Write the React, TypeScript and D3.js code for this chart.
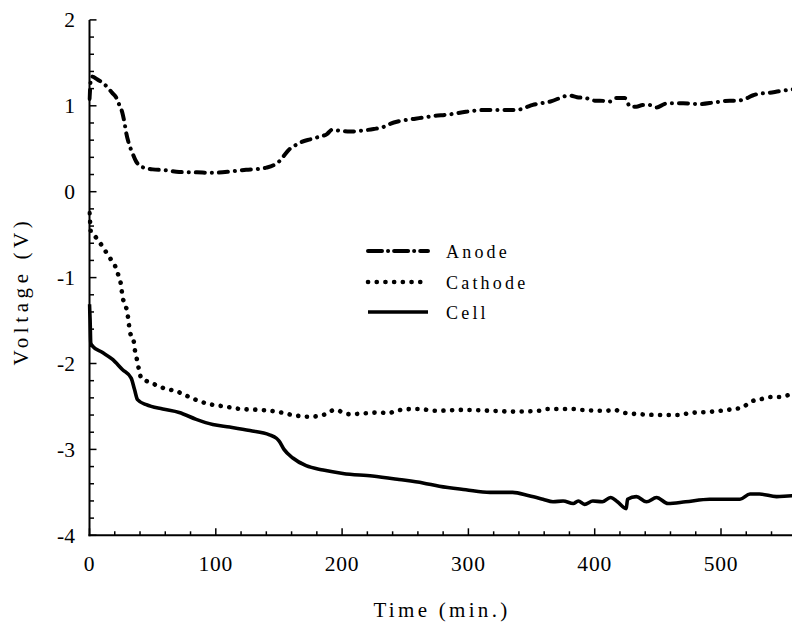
import React from "react";
import * as d3 from "d3";

const anodeT = [0,0.5,1,2,6,10,14,18,21,23,26,28,29,31,34,37,40,43,50,60,71,85,98,112,124,134,140,146,150,154,158,163,168,175,182,188,192,198,206,215,225,232,238,245,258,272,285,298,311,325,338,345,351,365,380,386,393,400,404,412,417,424,428,433,438,443,449,455,459,470,483,495,507,513,519,525,530,538,546,556,565];
const anodeV = [1.08,1.2,1.3,1.34,1.31,1.27,1.22,1.15,1.1,1.03,0.92,0.78,0.69,0.57,0.45,0.35,0.3,0.28,0.26,0.25,0.23,0.225,0.22,0.235,0.255,0.265,0.28,0.31,0.35,0.42,0.49,0.54,0.58,0.61,0.64,0.67,0.72,0.71,0.7,0.71,0.73,0.75,0.79,0.82,0.85,0.88,0.9,0.93,0.95,0.95,0.95,0.98,1.01,1.05,1.12,1.1,1.09,1.06,1.06,1.05,1.09,1.09,0.99,0.99,1.01,1.01,0.98,1.02,1.03,1.03,1.02,1.04,1.06,1.06,1.08,1.12,1.14,1.15,1.17,1.19,1.2];

const cathodeT = [0,0.5,1,5,9,13,17,21,23,25,26,28,30,31,32,35,36,37.5,39,41,46,51,57.5,70,82,94,107,120,135,148,161,174,187,194,206,230,236,243,255,261,274,296,317,338,356,363,375,383,389,409,416,422,435,455,467,474,493,505,517,523,533,540,546,553,565];
const cathodeV = [-0.25,-0.36,-0.46,-0.53,-0.61,-0.7,-0.79,-0.89,-0.98,-1.09,-1.21,-1.31,-1.41,-1.52,-1.63,-1.74,-1.85,-1.95,-2.06,-2.17,-2.21,-2.24,-2.28,-2.33,-2.41,-2.47,-2.5,-2.53,-2.54,-2.56,-2.6,-2.62,-2.59,-2.54,-2.59,-2.57,-2.58,-2.55,-2.53,-2.53,-2.55,-2.54,-2.55,-2.56,-2.55,-2.53,-2.53,-2.53,-2.54,-2.55,-2.54,-2.57,-2.59,-2.6,-2.6,-2.58,-2.56,-2.54,-2.51,-2.45,-2.41,-2.39,-2.39,-2.37,-2.35];

const cellT = [0,0.5,1,2.6,10,18,26,33,35.6,38,45,58,71,84.5,97.6,111,127,142.5,148,150,154,161,171.5,185,200.6,224,245,264,277,298,317,335,348,359,367,375,383,387,392,398.5,406,412.5,418,425,426,433,441,449,458,472,491,515,523,530.5,544,556,565];
const cellV = [-1.31,-1.5,-1.76,-1.8,-1.87,-1.95,-2.07,-2.17,-2.3,-2.42,-2.48,-2.53,-2.57,-2.65,-2.71,-2.74,-2.78,-2.83,-2.87,-2.9,-3.0,-3.1,-3.19,-3.24,-3.28,-3.31,-3.35,-3.39,-3.43,-3.47,-3.5,-3.5,-3.54,-3.58,-3.61,-3.6,-3.63,-3.6,-3.64,-3.6,-3.61,-3.56,-3.61,-3.69,-3.58,-3.55,-3.61,-3.56,-3.63,-3.61,-3.58,-3.58,-3.52,-3.52,-3.55,-3.54,-3.54];

const xTicks = [0, 100, 200, 300, 400, 500];
const yTicks = [-4, -3, -2, -1, 0, 1, 2];
const seriesNames = ["Anode", "Cathode", "Cell"];

const W = 792, H = 622;
const X0 = 89.5, Y0 = 535.3, YTOP = 19.9;

export default function App() {
  const x = d3.scaleLinear().domain([0, 100]).range([X0, X0 + 126.3]);
  const y = d3.scaleLinear().domain([-4, 2]).range([Y0, YTOP]);
  const line = d3.line<[number, number]>().x(d => x(d[0])).y(d => y(d[1])).curve(d3.curveMonotoneX);
  const zip = (a: number[], b: number[]) => a.map((t, i) => [t, b[i]] as [number, number]);

  const xMinor = d3.range(0, 561, 20).filter(v => v % 100 !== 0);
  const yMinor = d3.range(-4, 2.001, 0.2).map(v => Math.round(v * 10) / 10).filter(v => Math.abs(v - Math.round(v)) > 0.01);

  const styles = [
    { dash: "9,7,0.1,7", w: 4, cap: "round" as const },
    { dash: "0.1,8.6", w: 4.6, cap: "round" as const },
    { dash: undefined, w: 3.6, cap: "butt" as const },
  ];
  const data = [zip(anodeT, anodeV), zip(cathodeT, cathodeV), zip(cellT, cellV)];
  const font = "'Liberation Serif', 'Times New Roman', serif";
  const legendY = [251, 282, 312];

  return (
    <svg width={W} height={H} style={{ position: "absolute", left: 0, top: 0, background: "#fff" }} fontFamily={font}>
      <defs>
        <clipPath id="plot">
          <rect x={X0 - 2} y={YTOP - 5} width={W - X0 + 2} height={Y0 - YTOP + 5} />
        </clipPath>
      </defs>
      <g clipPath="url(#plot)">
        {data.map((d, i) => (
          <path key={i} d={line(d) || ""} fill="none" stroke="#000" strokeWidth={styles[i].w}
            strokeDasharray={styles[i].dash} strokeLinecap={styles[i].cap} strokeLinejoin="round" />
        ))}
      </g>
      {/* axes */}
      <line x1={X0} x2={X0} y1={YTOP} y2={Y0 + 1} stroke="#000" strokeWidth={2} />
      <line x1={X0 - 1} x2={W} y1={Y0} y2={Y0} stroke="#000" strokeWidth={2} />
      {yTicks.map(v => (
        <g key={"y" + v}>
          <line x1={X0} x2={X0 + 7} y1={y(v)} y2={y(v)} stroke="#000" strokeWidth={1.5} />
          <text x={75} y={y(v)} dy="0.35em" textAnchor="end" fontSize={21.5}>{v}</text>
        </g>
      ))}
      {yMinor.map(v => (
        <line key={"ym" + v} x1={X0} x2={X0 + 4.5} y1={y(v)} y2={y(v)} stroke="#000" strokeWidth={1.5} />
      ))}
      {xTicks.map(v => (
        <g key={"x" + v}>
          <line x1={x(v)} x2={x(v)} y1={Y0} y2={Y0 - 7} stroke="#000" strokeWidth={1.5} />
          <text x={x(v)} y={570.5} textAnchor="middle" fontSize={21.5} letterSpacing={0.8}>{v}</text>
        </g>
      ))}
      {xMinor.map(v => (
        <line key={"xm" + v} x1={x(v)} x2={x(v)} y1={Y0} y2={Y0 - 4} stroke="#000" strokeWidth={1.5} />
      ))}
      <text x={442} y={616.5} textAnchor="middle" fontSize={21} letterSpacing={3.3}>Time (min.)</text>
      <text transform="translate(28,291) rotate(-90)" textAnchor="middle" fontSize={21} letterSpacing={4.6}>Voltage (V)</text>
      {/* legend */}
      {seriesNames.map((n, i) => (
        <g key={n}>
          <line x1={368} x2={428} y1={legendY[i]} y2={legendY[i]} stroke="#000" strokeWidth={styles[i].w}
            strokeDasharray={i === 0 ? "14,6,0.1,6" : styles[i].dash} strokeLinecap={styles[i].cap} />
          <text x={446} y={legendY[i] + 6.5} fontSize={18} letterSpacing={3.2}>{n}</text>
        </g>
      ))}
    </svg>
  );
}
